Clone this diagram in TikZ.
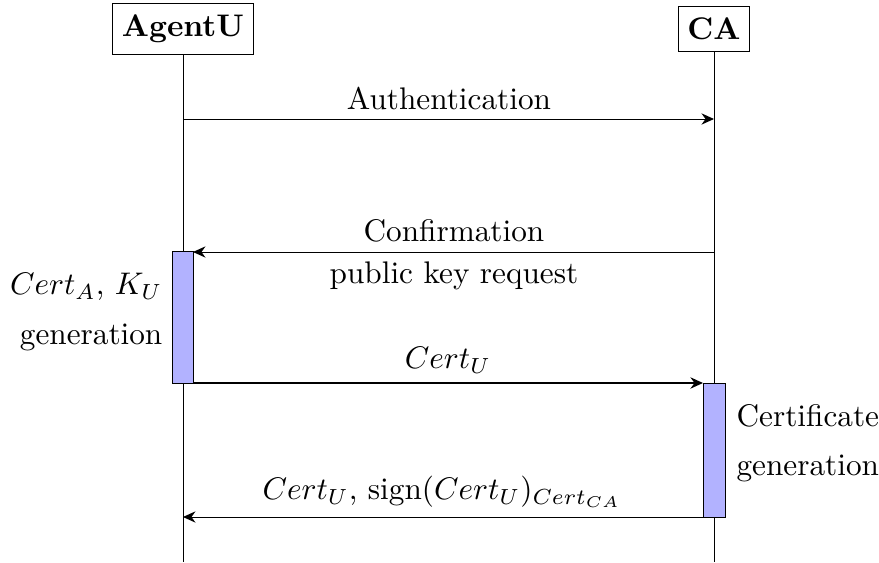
\documentclass[tikz,border=0pt]{standalone}
\usetikzlibrary{arrows.meta}
\begin{document}
\begin{tikzpicture}[x=0.32pt,y=-0.32pt,
  party/.style={draw,fill=white,font=\bfseries,inner xsep=3pt,inner ysep=3.6pt,line width=0.3pt},
  lifeline/.style={draw,line width=0.3pt},
  act/.style={draw,fill=blue!30,line width=0.3pt},
  tip/.style={-{Stealth[length=4pt,width=3.6pt,inset=1.3pt]}},
  msg/.style={tip,line width=0.3pt},
  msgthick/.style={tip,line width=0.7pt},
  lbl/.style={inner sep=0pt}]
\useasboundingbox (0,0) rectangle (879,563);

% participants
\node[party] (agent) at (183,29) {AgentU};
\node[party] (ca) at (714,29) {CA};
\coordinate (agentend) at (183,562);
\coordinate (caend) at (714,562);
\draw[lifeline] (agent) -- (agentend);
\draw[lifeline] (ca) -- (caend);

% activation bars
\coordinate (uA) at (172,251);
\coordinate (uB) at (193,383);
\coordinate (cA) at (703,383);
\coordinate (cB) at (725,517);
\draw[act] (uA) rectangle (uB);
\draw[act] (cA) rectangle (cB);

% message end points
\coordinate (m1s) at (183,119);
\coordinate (m1e) at (714,119);
\coordinate (m2s) at (714,252);
\coordinate (m2e) at (193,252);
\coordinate (m3s) at (193,383);
\coordinate (m3e) at (703,383);
\coordinate (m4s) at (703,517);
\coordinate (m4e) at (183,517);

\draw[msg] (m1s) -- (m1e);
\draw[msg] (m2s) -- (m2e);
\draw[msgthick] (m3s) -- (m3e);
\draw[msg] (m4s) -- (m4e);

% message labels
\node[lbl] (l1) at (449,98) {Authentication};
\node[lbl] (l2) at (454,231) {Confirmation};
\node[lbl] (l2b) at (454,276) {public key request};
\node[lbl] (l3) at (448,360) {$Cert_U$};
\node[lbl] (l4) at (442,492) {$Cert_U$, sign$(Cert_U)_{Cert_{CA}}$};

% activity notes
\node[lbl,anchor=east] (n1) at (163,287) {$Cert_A$, $K_U$};
\node[lbl,anchor=east] (n2) at (163,337) {generation};
\node[lbl,anchor=west] (n3) at (736,416) {Certificate};
\node[lbl,anchor=west] (n4) at (736,468) {generation};
\end{tikzpicture}
\end{document}
